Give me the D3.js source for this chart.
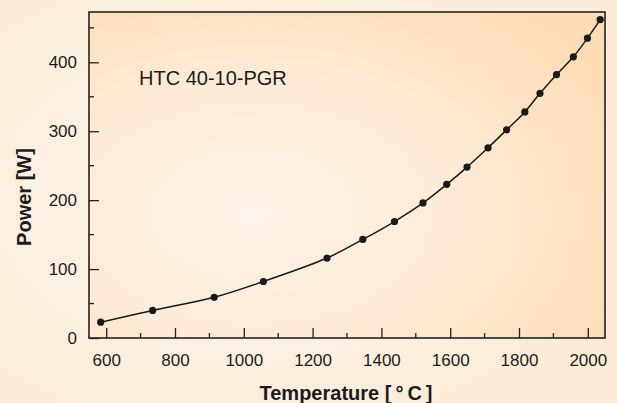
<!DOCTYPE html>
<html>
<head>
<meta charset="utf-8">
<script src="https://cdn.jsdelivr.net/npm/d3@7"></script>
<style>
  html, body { margin: 0; padding: 0; background: #fcefdf; }
  svg { display: block; font-family: "Liberation Sans", Arial, sans-serif; }
</style>
</head>
<body>
<div id="chart"></div>
<script>
// Datos (temperatura en °C, potencia en W)
const temperature = [584, 735, 914, 1057, 1242, 1346, 1438, 1521, 1590, 1649, 1710, 1764, 1817, 1861, 1909, 1958, 1999, 2036];
const power = [23, 40, 59, 82, 116, 143, 169, 196, 223, 248, 276, 302, 328, 355, 382, 408, 435, 462];
const xTicks = [600, 800, 1000, 1200, 1400, 1600, 1800, 2000];
const yTicks = [0, 100, 200, 300, 400];
const xMinor = [700, 900, 1100, 1300, 1500, 1700, 1900];
const yMinor = [50, 150, 250, 350, 450];
const label = 'HTC 40-10-PGR';

const W = 617, H = 403;
const margin = { top: 12, right: 12, bottom: 65, left: 89 };
const width = W - margin.left - margin.right;
const height = H - margin.top - margin.bottom;

const svg = d3.select('#chart').append('svg')
    .attr('width', W)
    .attr('height', H);

// Degradados de fondo
const defs = svg.append('defs');
const bgGrad = defs.append('radialGradient')
    .attr('id', 'bgGrad').attr('cx', '40%').attr('cy', '50%').attr('r', '75%');
bgGrad.append('stop').attr('offset', '0%').attr('stop-color', '#fef5ea');
bgGrad.append('stop').attr('offset', '100%').attr('stop-color', '#fbebd6');

const plotGrad = defs.append('radialGradient')
    .attr('id', 'plotGrad').attr('cx', '32%').attr('cy', '62%').attr('r', '80%');
plotGrad.append('stop').attr('offset', '0%').attr('stop-color', '#fef4e8');
plotGrad.append('stop').attr('offset', '50%').attr('stop-color', '#fdebd6');
plotGrad.append('stop').attr('offset', '100%').attr('stop-color', '#fcdcb5');

svg.append('rect').attr('width', W).attr('height', H).attr('fill', 'url(#bgGrad)');

const g = svg.append('g').attr('transform', `translate(${margin.left},${margin.top})`);

const x = d3.scaleLinear().domain([550, 2050]).range([0, width]);
const y = d3.scaleLinear().domain([0, 473]).range([height, 0]);

g.append('rect')
    .attr('width', width).attr('height', height)
    .attr('fill', 'url(#plotGrad)');

// Ejes con marcas hacia dentro
const xAxis = g.append('g')
    .attr('transform', `translate(0,${height})`)
    .call(d3.axisBottom(x).tickValues(xTicks).tickFormat(d3.format('d'))
        .tickSizeInner(-10).tickSizeOuter(0).tickPadding(16));
xAxis.append('g').selectAll('line').data(xMinor).enter().append('line')
    .attr('x1', d => x(d)).attr('x2', d => x(d)).attr('y1', 0).attr('y2', -5);

const yAxis = g.append('g')
    .call(d3.axisLeft(y).tickValues(yTicks).tickFormat(d3.format('d'))
        .tickSizeInner(-10).tickSizeOuter(0).tickPadding(12));
yAxis.append('g').selectAll('line').data(yMinor).enter().append('line')
    .attr('x1', 0).attr('x2', 5).attr('y1', d => y(d)).attr('y2', d => y(d));

[xAxis, yAxis].forEach(a => {
    a.select('.domain').remove();
    a.selectAll('line').attr('stroke', '#222').attr('stroke-width', 1.3);
    a.selectAll('text').attr('fill', '#1c1c1c').attr('font-size', 17)
        .attr('font-family', '"Liberation Sans", Arial, sans-serif');
});

// Marco
g.append('rect')
    .attr('width', width).attr('height', height)
    .attr('fill', 'none').attr('stroke', '#222').attr('stroke-width', 1.6);

// Curva y puntos
const points = temperature.map((t, i) => [t, power[i]]);
const line = d3.line().x(d => x(d[0])).y(d => y(d[1])).curve(d3.curveCatmullRom);

g.append('path')
    .datum(points)
    .attr('d', line)
    .attr('fill', 'none')
    .attr('stroke', '#1a1a1a')
    .attr('stroke-width', 1.5);

g.selectAll('.dot')
    .data(points)
    .enter()
    .append('circle')
    .attr('class', 'dot')
    .attr('cx', d => x(d[0]))
    .attr('cy', d => y(d[1]))
    .attr('r', 3.6)
    .attr('fill', '#1a1a1a');

g.append('text')
    .attr('x', 50).attr('y', 73)
    .attr('font-size', 20).attr('fill', '#1c1c1c')
    .text(label);

// Títulos de los ejes
svg.append('text')
    .attr('x', 346).attr('y', 400)
    .attr('text-anchor', 'middle')
    .attr('font-size', 20).attr('font-weight', 'bold').attr('fill', '#1c1c1c')
    .text('Temperature [\u2009°\u2009C\u2009]');

svg.append('text')
    .attr('transform', 'translate(31,197) rotate(-90)')
    .attr('text-anchor', 'middle')
    .attr('font-size', 20).attr('font-weight', 'bold').attr('fill', '#1c1c1c')
    .text('Power [W]');
</script>
</body>
</html>
